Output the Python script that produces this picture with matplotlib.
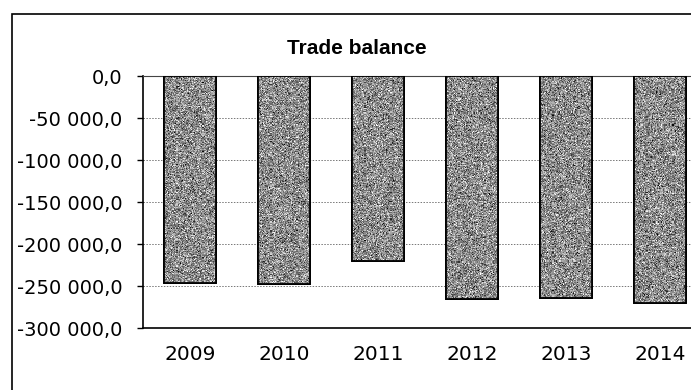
import numpy as np
import matplotlib
matplotlib.use("Agg")
from matplotlib import pyplot as plt
from matplotlib.patches import Rectangle

# data
years = ["2009", "2010", "2011", "2012", "2013", "2014"]
balance = [-246000, -248000, -220000, -265000, -264500, -270000]
yticks = [0, -50000, -100000, -150000, -200000, -250000, -300000]

plt.rcParams['font.family'] = ['DejaVu Sans']

W, H = 691, 390
fig = plt.figure(figsize=(W / 100, H / 100), dpi=100)

# outer chart frame (runs off the right and bottom edges)
fig.patches.append(Rectangle((12 / W, -0.1), 1.2, 1 - 14 / H + 0.1, transform=fig.transFigure,
                             fill=False, edgecolor='black', linewidth=1.2))

left, right, top, bottom = 143, 707, 76, 328
ax = fig.add_axes([left / W, 1 - bottom / H, (right - left) / W, (bottom - top) / H])

x = np.arange(len(years))
bars = ax.bar(x, balance, width=0.55, color='#8c8c8c', edgecolor='black', linewidth=1.3, zorder=3)

# grainy fill texture inside each bar
rng = np.random.default_rng(3)
for b in bars:
    noise = rng.normal(0.55, 0.18, size=(220, 50)).clip(0, 1)
    im = ax.imshow(noise, cmap='gray', vmin=0, vmax=1, aspect='auto', interpolation='nearest',
                   extent=(b.get_x(), b.get_x() + b.get_width(), b.get_y() + b.get_height(), b.get_y()),
                   zorder=3.5)
    im.set_clip_path(b)
    ax.add_patch(Rectangle((b.get_x(), b.get_y()), b.get_width(), b.get_height(), fill=False,
                           edgecolor='black', linewidth=1.3, zorder=4))

ax.set_xlim(-0.5, 5.5)
ax.set_ylim(-300000, 0)
ax.set_yticks(yticks)
ax.set_yticklabels([f"{v:,.1f}".replace(",", " ").replace(".", ",") for v in yticks], fontsize=14)
ax.set_xticks(x)
ax.set_xticklabels(years, fontsize=14.5)
ax.tick_params(axis='x', length=0, pad=12)
ax.tick_params(axis='y', length=4.3, width=1, direction='out', pad=10.5)
ax.yaxis.grid(True, linestyle=(0, (1.5, 1.5)), color='#777777', linewidth=0.7, zorder=0)
ax.set_axisbelow(True)
for s in ['left', 'bottom']:
    ax.spines[s].set_linewidth(1.2)
ax.spines['top'].set_linewidth(0.8)
ax.spines['top'].set_color('#444444')
ax.spines['right'].set_visible(False)

fig.text(357 / W, 1 - 48 / H, "Trade balance", ha='center', va='center', fontsize=15,
         fontweight='bold', family=['Liberation Sans', 'DejaVu Sans'])

fig.savefig("out.png", dpi=100)
